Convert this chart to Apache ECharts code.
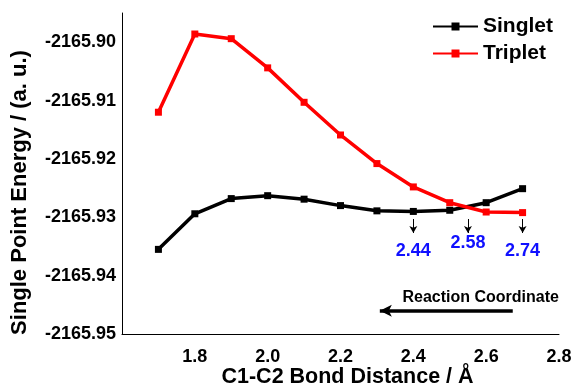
<!DOCTYPE html>
<html>
<head>
<meta charset="utf-8">
<script src="https://cdn.jsdelivr.net/npm/echarts@6/dist/echarts.min.js"></script>
<style>
  html, body { margin: 0; padding: 0; background: #fff; }
  #chart { width: 571px; height: 390px; }
</style>
</head>
<body>
<div id="chart"></div>
<script>
const bondDistance = [1.7, 1.8, 1.9, 2.0, 2.1, 2.2, 2.3, 2.4, 2.5, 2.6, 2.7];
const singlet = [-2165.9355, -2165.9294, -2165.9268, -2165.9263, -2165.9269, -2165.9280,
  -2165.9289, -2165.9290, -2165.9288, -2165.9275, -2165.9251];
const triplet = [-2165.9120, -2165.8986, -2165.8994, -2165.9044, -2165.9103, -2165.9159,
  -2165.9208, -2165.9248, -2165.9275, -2165.9291, -2165.9292];

// crossing marks: where the arrow points, and the label under it
const crossX = [2.4, 2.55, 2.7];
const crossLabels = ['2.44', '2.58', '2.74'];
const crossLabelY = [-2165.9357, -2165.9344, -2165.9357];
const arrowTop = -2165.9303;
const arrowBottom = -2165.9327;

const FONT = 'Liberation Sans';

const chart = echarts.init(document.getElementById('chart'));

const pairs = (ys) => bondDistance.map((x, i) => [x, ys[i]]);

const option = {
  animation: false,
  grid: { left: 122, right: 12, top: 13, bottom: 56, outerBoundsMode: 'none' },
  legend: {
    orient: 'vertical',
    left: 432,
    top: 16,
    padding: 0,
    itemWidth: 45,
    itemHeight: 10,
    itemGap: 6,
    textStyle: { fontFamily: FONT, fontWeight: 'bold', fontSize: 21, color: '#000' },
    data: ['Singlet', 'Triplet'],
  },
  xAxis: {
    type: 'value',
    min: 1.6,
    max: 2.8,
    interval: 0.2,
    name: 'C1-C2 Bond Distance / Å',
    nameLocation: 'middle',
    nameGap: 32,
    nameMoveOverlap: false,
    nameTextStyle: {
      fontFamily: FONT, fontWeight: 'bold', fontSize: 21.5, color: '#000',
      padding: [0, 0, 0, 14],
    },
    axisLine: { lineStyle: { color: '#000', width: 1 } },
    axisTick: { show: false },
    splitLine: { show: false },
    axisLabel: {
      showMinLabel: false,
      margin: 14,
      fontFamily: FONT, fontWeight: 'bold', fontSize: 18, color: '#000',
      formatter: (v) => v.toFixed(1),
    },
  },
  yAxis: {
    type: 'value',
    min: -2165.95,
    max: -2165.895,
    interval: 0.01,
    name: 'Single Point Energy / (a. u.)',
    nameLocation: 'middle',
    nameGap: 91,
    nameMoveOverlap: false,
    nameTextStyle: {
      fontFamily: FONT, fontWeight: 'bold', fontSize: 22, color: '#000',
      padding: [0, 38, 0, 0],
    },
    axisLine: { show: true, lineStyle: { color: '#000', width: 1 } },
    axisTick: { show: false },
    splitLine: { show: false },
    axisLabel: {
      showMaxLabel: false,
      margin: 6,
      fontFamily: FONT, fontWeight: 'bold', fontSize: 18, color: '#000',
      formatter: (v) => v.toFixed(2),
    },
  },
  series: [
    {
      name: 'Singlet',
      type: 'line',
      data: pairs(singlet),
      symbol: 'rect',
      symbolSize: 7,
      lineStyle: { color: '#000', width: 3.5 },
      itemStyle: { color: '#000' },
      markLine: {
        silent: true,
        symbol: ['none', 'arrow'],
        symbolSize: [6, 7],
        label: { show: false },
        lineStyle: { color: '#000', width: 1, type: 'solid' },
        data: crossX.map((x) => [
          { coord: [x, arrowTop] },
          { coord: [x, arrowBottom] },
        ]).concat([[
          { coord: [2.673, -2165.946], lineStyle: { width: 3.5 } },
          { coord: [2.308, -2165.946], lineStyle: { width: 3.5 }, symbolSize: [9, 12] },
        ]]),
      },
      markPoint: {
        silent: true,
        symbol: 'rect',
        symbolSize: 0,
        data: crossX.map((x, i) => ({
          coord: [x, crossLabelY[i]],
          label: {
            show: true,
            position: 'inside',
            formatter: crossLabels[i],
            fontFamily: FONT, fontWeight: 'bold', fontSize: 18, color: '#1010ff',
          },
        })).concat([{
          coord: [2.585, -2165.9437],
          label: {
            show: true,
            position: 'inside',
            formatter: 'Reaction Coordinate',
            fontFamily: FONT, fontWeight: 'bold', fontSize: 16, color: '#000',
          },
        }]),
      },
    },
    {
      name: 'Triplet',
      type: 'line',
      data: pairs(triplet),
      symbol: 'rect',
      symbolSize: 7,
      lineStyle: { color: '#ff0000', width: 3.5 },
      itemStyle: { color: '#ff0000' },
    },
  ],
};

chart.setOption(option);
</script>
</body>
</html>
